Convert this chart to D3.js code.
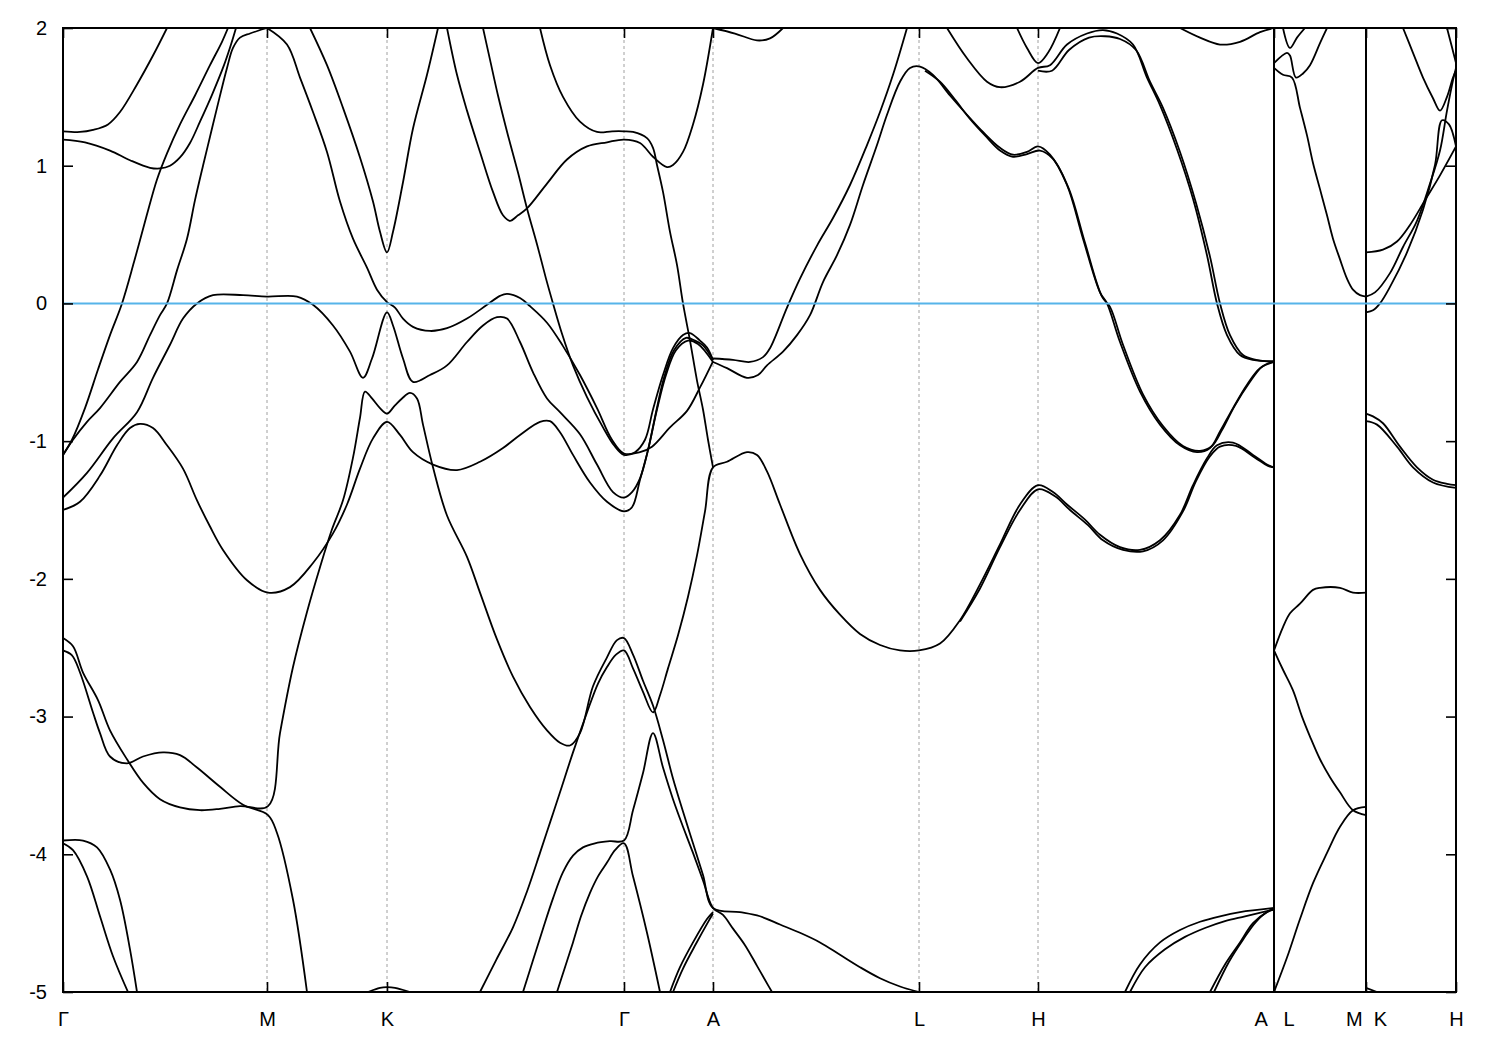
<!DOCTYPE html>
<html><head><meta charset="utf-8">
<script src="https://cdn.jsdelivr.net/npm/d3@7"></script>
<style>
body{margin:0;background:#fff}
svg{display:block}
text{font-family:"Liberation Sans",Arial,sans-serif;font-size:20px;fill:#000}
</style>
</head><body>
<svg id="chart" width="1500" height="1050"></svg>
<script>
// ---- high-symmetry path (k in path units) ----
const kTicks = [0, 204, 324, 561, 650, 856, 975, 1211, 1303, 1393];
const kLabels = ["Γ", "M", "K", "Γ", "A", "L", "H", "A   L", "M  K", "H"];
const eTicks = [2, 1, 0, -1, -2, -3, -4, -5];
const jumps = [1211, 1303];           // path discontinuities A|L and M|K
const fermi = 0;

// ---- bands: [k, E(eV)] ----
const bandC1 = [[0,1.25],[17,1.245],[30,1.26],[45,1.30],[57,1.39],[74,1.59],[90,1.80],[104,2.0]];
const bandC2 = [[0,1.19],[22,1.17],[47,1.11],[67,1.04],[87,0.985],[97,0.98],[107,1.00],[117,1.06],[127,1.165],[137,1.32],[149,1.515],[161,1.73],[168,1.88],[173,2.0]];
const bandLa = [[0,-1.10],[9,-0.99],[22,-0.76],[35,-0.48],[47,-0.23],[59,0],[71,0.30],[83,0.62],[94,0.90],[104,1.09],[117,1.30],[132,1.51],[147,1.73],[159,1.90],[165,2.0]];
const bandLb = [[0,-1.10],[10,-0.99],[24,-0.86],[37,-0.76],[57,-0.57],[74,-0.425],[87,-0.23],[97,-0.085],[104,0],[114,0.24],[124,0.47],[132,0.75],[140,1.0],[147,1.21],[154,1.42],[164,1.71],[170,1.855],[177,1.93],[187,1.96],[195,1.98],[204,2.0]];
const bandM0 = [[204,2.0],[224,1.88],[237,1.64],[250,1.39],[264,1.10],[277,0.74],[290,0.47],[304,0.26],[314,0.10],[324,0.01],[332,-0.03],[340,-0.11],[350,-0.17],[367,-0.20],[384,-0.18],[404,-0.11],[424,-0.01],[437,0.055],[444,0.07],[457,0.04],[467,-0.02],[484,-0.14],[500,-0.31],[517,-0.52],[534,-0.76],[549,-0.99],[561,-1.09],[577,-1.08],[589,-1.04],[607,-0.90],[624,-0.78],[637,-0.61],[650,-0.42]];
const bandS = [[420,2.0],[427,1.77],[435,1.51],[445,1.22],[455,0.95],[464,0.69],[474,0.43],[483,0.18],[490,0.0],[499,-0.22],[510,-0.45],[524,-0.68],[540,-0.90],[551,-1.03],[561,-1.10],[572,-1.08],[582,-0.99],[590,-0.77],[600,-0.52],[610,-0.325],[620,-0.23],[627,-0.215],[637,-0.27],[644,-0.32],[650,-0.41]];
const bandD3 = [[0,-1.41],[24,-1.23],[50,-0.98],[74,-0.79],[90,-0.54],[107,-0.30],[120,-0.11],[134,0.0],[150,0.06],[180,0.06],[204,0.05],[234,0.05],[250,-0.01],[270,-0.16],[287,-0.35],[300,-0.54],[309,-0.40],[324,-0.065],[330,-0.16],[340,-0.40],[350,-0.57],[367,-0.52],[384,-0.45],[404,-0.28],[420,-0.16],[434,-0.10],[444,-0.11],[457,-0.28],[470,-0.50],[484,-0.69],[497,-0.79],[517,-0.95],[534,-1.17],[550,-1.37],[561,-1.41],[569,-1.37],[577,-1.27],[585,-1.065],[593,-0.79],[601,-0.54],[611,-0.34],[623,-0.25],[632,-0.27],[640,-0.305],[650,-0.41]];
const bandD2 = [[0,-1.50],[17,-1.44],[37,-1.25],[54,-1.03],[67,-0.905],[77,-0.875],[90,-0.905],[104,-1.03],[120,-1.20],[134,-1.43],[147,-1.62],[160,-1.79],[184,-2.01],[205,-2.10],[227,-2.06],[250,-1.885],[270,-1.67],[284,-1.46],[297,-1.20],[310,-0.98],[324,-0.86],[337,-0.955],[350,-1.08],[370,-1.17],[394,-1.21],[417,-1.15],[440,-1.05],[457,-0.955],[477,-0.86],[487,-0.855],[497,-0.935],[510,-1.10],[527,-1.30],[544,-1.44],[561,-1.51],[569,-1.48],[577,-1.28],[585,-1.065],[594,-0.77],[603,-0.52],[613,-0.34],[625,-0.27],[635,-0.295],[650,-0.425]];
const bandD1 = [[0,-2.43],[10,-2.49],[20,-2.68],[35,-2.88],[47,-3.10],[64,-3.31],[80,-3.48],[97,-3.60],[117,-3.66],[137,-3.68],[157,-3.67],[177,-3.65],[205,-3.65],[217,-3.12],[230,-2.64],[244,-2.24],[257,-1.915],[269,-1.64],[280,-1.43],[290,-1.12],[297,-0.83],[302,-0.64],[309,-0.69],[317,-0.76],[324,-0.80],[332,-0.74],[339,-0.69],[347,-0.65],[354,-0.69],[360,-0.88],[370,-1.19],[384,-1.54],[404,-1.84],[417,-2.10],[434,-2.44],[450,-2.71],[467,-2.93],[484,-3.10],[497,-3.19],[507,-3.21],[517,-3.12],[530,-2.78],[544,-2.57],[554,-2.445],[561,-2.43],[570,-2.55],[580,-2.74],[590,-2.92],[600,-3.17],[610,-3.45],[620,-3.69],[630,-3.92],[640,-4.15],[650,-4.39],[677,-4.42],[697,-4.45],[717,-4.51],[737,-4.57],[757,-4.64],[777,-4.73],[797,-4.82],[817,-4.90],[837,-4.96],[856,-5.0]];
const bandA2 = [[0,-2.52],[9,-2.555],[17,-2.68],[30,-2.97],[37,-3.12],[47,-3.29],[64,-3.34],[80,-3.29],[100,-3.26],[117,-3.28],[134,-3.37],[157,-3.51],[180,-3.64],[205,-3.715],[214,-3.845],[230,-4.33],[244,-5.0]];
const bandB1 = [[0,-3.90],[20,-3.90],[34,-3.95],[47,-4.11],[57,-4.33],[67,-4.69],[74,-5.0]];
const bandB2 = [[0,-3.92],[10,-3.97],[24,-4.16],[37,-4.45],[50,-4.74],[65,-5.0]];
const bandKb = [[305,-5.0],[317,-4.97],[324,-4.965],[332,-4.97],[347,-5.0]];
const bandE1 = [[417,-5.0],[433,-4.77],[450,-4.53],[464,-4.27],[477,-3.99],[487,-3.77],[497,-3.55],[510,-3.26],[524,-2.97],[535,-2.76],[544,-2.64],[553,-2.55],[561,-2.52],[570,-2.65],[580,-2.82],[590,-2.97],[597,-2.845],[605,-2.65],[615,-2.41],[625,-2.13],[634,-1.83],[642,-1.51],[650,-1.19],[664,-1.15],[684,-1.08],[694,-1.10],[704,-1.22],[717,-1.46],[737,-1.82],[757,-2.08],[777,-2.26],[797,-2.40],[817,-2.48],[837,-2.52],[856,-2.52],[877,-2.47],[897,-2.30],[917,-2.04],[937,-1.75],[957,-1.46],[975,-1.32],[990,-1.37],[1004,-1.46],[1022,-1.57],[1037,-1.68],[1057,-1.77],[1077,-1.79],[1097,-1.72],[1117,-1.535],[1130,-1.32],[1144,-1.125],[1154,-1.03],[1170,-1.01],[1190,-1.10],[1204,-1.17],[1211,-1.19]];
const bandT2 = [[897,-2.31],[917,-2.07],[937,-1.77],[957,-1.50],[975,-1.35],[992,-1.40],[1007,-1.50],[1025,-1.61],[1040,-1.72],[1060,-1.79],[1080,-1.80],[1100,-1.72],[1120,-1.51],[1133,-1.29],[1147,-1.11],[1157,-1.04],[1173,-1.035],[1192,-1.12],[1205,-1.18],[1211,-1.19]];
const bandV = [[477,2.0],[487,1.73],[500,1.50],[517,1.32],[534,1.245],[549,1.25],[561,1.25],[570,1.245],[584,1.20],[590,1.13],[594,1.005],[600,0.81],[607,0.52],[614,0.28],[620,0.0],[627,-0.27],[634,-0.56],[640,-0.77],[645,-0.99],[650,-1.19]];
const bandW = [[384,2.0],[394,1.66],[404,1.40],[417,1.10],[430,0.81],[440,0.64],[447,0.60],[455,0.64],[464,0.69],[484,0.87],[504,1.045],[524,1.14],[544,1.17],[561,1.19],[577,1.165],[590,1.065],[604,0.99],[610,1.005],[620,1.10],[630,1.30],[640,1.59],[650,2.0]];
const bandKV = [[247,2.0],[264,1.73],[280,1.42],[297,1.06],[310,0.74],[317,0.52],[324,0.37],[330,0.52],[340,0.88],[350,1.27],[364,1.66],[375,2.0]];
const bandE2 = [[460,-5.0],[470,-4.77],[480,-4.54],[490,-4.32],[500,-4.13],[510,-4.01],[520,-3.95],[532,-3.92],[547,-3.905],[561,-3.90],[570,-3.68],[580,-3.41],[590,-3.12],[600,-3.37],[610,-3.60],[620,-3.80],[630,-3.99],[640,-4.19],[650,-4.39],[660,-4.44],[670,-4.54],[682,-4.66],[694,-4.81],[705,-4.95],[709,-5.0]];
const bandE3 = [[494,-5.0],[502,-4.82],[510,-4.64],[518,-4.45],[527,-4.28],[535,-4.16],[544,-4.06],[552,-3.97],[561,-3.92],[570,-4.16],[584,-4.57],[597,-5.0]];
const bandG5 = [[607,-5.0],[617,-4.82],[630,-4.64],[644,-4.47],[650,-4.42]];
const bandG5b = [[610,-5.0],[620,-4.83],[633,-4.65],[646,-4.48],[650,-4.43]];
const bandATop = [[650,2.0],[672,1.96],[694,1.91],[707,1.925],[720,2.0]];
const bandP = [[650,-0.40],[670,-0.41],[687,-0.425],[700,-0.39],[707,-0.325],[724,-0.03],[737,0.18],[754,0.42],[770,0.62],[787,0.86],[804,1.15],[817,1.39],[830,1.66],[844,2.0]];
const bandQ = [[650,-0.425],[664,-0.47],[684,-0.54],[695,-0.52],[704,-0.45],[720,-0.35],[734,-0.23],[747,-0.085],[760,0.155],[774,0.35],[787,0.57],[800,0.86],[814,1.15],[824,1.37],[837,1.61],[847,1.71],[857,1.72],[870,1.66],[887,1.51],[904,1.37],[920,1.245],[937,1.13],[950,1.08],[964,1.10],[975,1.14],[987,1.08],[1004,0.86],[1020,0.47],[1037,0.08],[1044,0.0],[1057,-0.28],[1077,-0.64],[1097,-0.88],[1117,-1.03],[1134,-1.08],[1147,-1.05],[1157,-0.93],[1170,-0.76],[1184,-0.59],[1197,-0.47],[1211,-0.425]];
const bandQ2 = [[862,1.69],[877,1.61],[892,1.48],[907,1.34],[922,1.22],[937,1.11],[950,1.065],[964,1.085],[977,1.11],[990,1.05],[1006,0.83],[1022,0.44],[1039,0.05],[1047,-0.025],[1060,-0.30],[1080,-0.66],[1100,-0.89],[1120,-1.035],[1137,-1.07],[1149,-1.035],[1159,-0.92],[1172,-0.74],[1186,-0.58],[1199,-0.46],[1211,-0.42]];
const bandR = [[884,2.0],[904,1.78],[924,1.61],[937,1.57],[957,1.61],[975,1.71],[987,1.73],[1004,1.88],[1024,1.96],[1040,1.985],[1054,1.96],[1070,1.88],[1084,1.64],[1097,1.44],[1114,1.12],[1130,0.76],[1144,0.35],[1154,0.0],[1164,-0.23],[1177,-0.375],[1190,-0.41],[1211,-0.42]];
const bandR2 = [[975,1.69],[989,1.69],[1006,1.84],[1026,1.93],[1042,1.94],[1057,1.92],[1073,1.84],[1087,1.61],[1100,1.42],[1117,1.10],[1133,0.73],[1147,0.34],[1157,0.0],[1167,-0.23],[1180,-0.375],[1193,-0.41],[1211,-0.425]];
const bandHV = [[954,2.0],[964,1.855],[975,1.745],[985,1.82],[997,2.0]];
const bandHATop = [[1117,2.0],[1137,1.93],[1157,1.88],[1177,1.90],[1197,1.97],[1211,2.0]];
const bandHA1 = [[1062,-5.0],[1077,-4.80],[1097,-4.64],[1117,-4.55],[1137,-4.49],[1157,-4.45],[1177,-4.42],[1211,-4.39]];
const bandHA1b = [[1067,-5.0],[1082,-4.82],[1102,-4.69],[1122,-4.60],[1142,-4.535],[1162,-4.485],[1182,-4.45],[1211,-4.40]];
const bandHA2 = [[1147,-5.0],[1162,-4.80],[1177,-4.64],[1190,-4.50],[1204,-4.42],[1211,-4.40]];
const bandHA2b = [[1151,-5.0],[1166,-4.78],[1180,-4.62],[1193,-4.49],[1206,-4.41],[1211,-4.40]];
const bandLM1 = [[1211,1.745],[1224,1.82],[1227,1.80],[1233,1.64],[1240,1.67],[1247,1.73],[1257,1.89],[1264,2.0]];
const bandLMV = [[1220,2.0],[1227,1.855],[1234,1.93],[1242,2.0]];
const bandLM2 = [[1211,1.71],[1220,1.66],[1229,1.64],[1237,1.42],[1244,1.22],[1250,1.02],[1257,0.83],[1264,0.64],[1270,0.47],[1277,0.32],[1284,0.18],[1290,0.10],[1297,0.06],[1303,0.05]];
const bandLM3 = [[1211,-2.52],[1220,-2.35],[1227,-2.25],[1237,-2.18],[1250,-2.08],[1257,-2.065],[1277,-2.065],[1290,-2.10],[1303,-2.10]];
const bandLM4 = [[1211,-2.52],[1220,-2.66],[1230,-2.81],[1239,-3.00],[1247,-3.145],[1257,-3.31],[1267,-3.44],[1277,-3.55],[1290,-3.68],[1303,-3.715]];
const bandLM5 = [[1211,-5.0],[1224,-4.75],[1237,-4.47],[1250,-4.21],[1264,-3.99],[1277,-3.80],[1290,-3.68],[1303,-3.655]];
const bandKH1 = [[1303,-0.80],[1310,-0.82],[1320,-0.87],[1337,-1.04],[1354,-1.19],[1370,-1.28],[1384,-1.31],[1393,-1.32]];
const bandKH2 = [[1303,-0.855],[1314,-0.88],[1334,-1.04],[1350,-1.19],[1370,-1.30],[1393,-1.34]];
const bandKHb = [[1303,-4.97],[1314,-5.0]];
const bandKH3 = [[1303,0.37],[1320,0.39],[1334,0.45],[1347,0.57],[1362,0.75],[1377,0.93],[1393,1.14]];
const bandKH4 = [[1303,0.05],[1312,0.08],[1327,0.22],[1340,0.41],[1354,0.60],[1367,0.87],[1377,1.11],[1384,1.40],[1390,1.62],[1393,1.71]];
const bandKH5 = [[1303,-0.065],[1310,-0.05],[1317,0.0],[1327,0.12],[1344,0.37],[1360,0.68],[1372,1.005],[1379,1.33],[1386,1.30],[1393,1.14]];
const bandKH6 = [[1340,2.0],[1350,1.82],[1360,1.64],[1370,1.49],[1377,1.40],[1384,1.50],[1390,1.64],[1393,1.69]];
const bandKH7 = [[1384,2.0],[1389,1.86],[1393,1.745]];

const bands = [bandC1,bandC2,bandLa,bandLb,bandM0,bandS,bandD3,bandD2,bandD1,bandA2,bandB1,bandB2,bandKb,
  bandE1,bandT2,bandV,bandW,bandKV,bandE2,bandE3,bandG5,bandG5b,bandATop,bandP,bandQ,bandQ2,bandR,bandR2,
  bandHV,bandHATop,bandHA1,bandHA1b,bandHA2,bandHA2b,bandLM1,bandLMV,bandLM2,bandLM3,bandLM4,bandLM5,
  bandKH1,bandKH2,bandKHb,bandKH3,bandKH4,bandKH5,bandKH6,bandKH7];

// ---- drawing ----
const svg = d3.select("#chart");
const x = d3.scaleLinear().domain([0, 1393]).range([63, 1456]);
const y = d3.scaleLinear().domain([-5, 2]).range([992, 28]);

svg.append("rect").attr("width",1500).attr("height",1050).attr("fill","#fff");

svg.append("defs").append("clipPath").attr("id","plotclip")
  .append("rect").attr("x",x(0)).attr("y",y(2)).attr("width",x(1393)-x(0)).attr("height",y(-5)-y(2));

// dashed high-symmetry gridlines
svg.append("g").selectAll("line").data(kTicks.slice(1,-1)).join("line")
  .attr("x1",d=>x(d)).attr("x2",d=>x(d)).attr("y1",y(2)).attr("y2",y(-5))
  .attr("stroke","#a0a0a0").attr("stroke-width",1).attr("stroke-dasharray","3,3");

// bands
const line = d3.line().x(d=>x(d[0])).y(d=>y(d[1])).curve(d3.curveCatmullRom.alpha(0.5));
const g = svg.append("g").attr("clip-path","url(#plotclip)");
g.selectAll("path.band").data(bands).join("path").attr("class","band")
  .attr("d",line).attr("fill","none").attr("stroke","#000").attr("stroke-width",1.8)
  .attr("stroke-linejoin","round");
// discontinuity jumps
g.selectAll("line.jump").data(jumps).join("line").attr("class","jump")
  .attr("x1",d=>x(d)).attr("x2",d=>x(d)).attr("y1",y(2)).attr("y2",y(-5))
  .attr("stroke","#000").attr("stroke-width",2);

// Fermi level
svg.append("line").attr("x1",x(0)).attr("x2",x(1393)).attr("y1",y(fermi)).attr("y2",y(fermi))
  .attr("stroke","#56b4e9").attr("stroke-width",2);

// axes
const axL = svg.append("g").attr("transform",`translate(${x(0)},0)`)
  .call(d3.axisLeft(y).tickValues(eTicks).tickSize(-10).tickPadding(16).tickFormat(d3.format("d")));
const axR = svg.append("g").attr("transform",`translate(${x(1393)},0)`)
  .call(d3.axisRight(y).tickValues(eTicks).tickSize(-10).tickFormat(""));
const axB = svg.append("g").attr("transform",`translate(0,${y(-5)})`)
  .call(d3.axisBottom(x).tickValues(kTicks).tickSize(-10).tickPadding(20).tickFormat((d,i)=>kLabels[i]));
const axT = svg.append("g").attr("transform",`translate(0,${y(2)})`)
  .call(d3.axisTop(x).tickValues(kTicks).tickSize(-10).tickFormat(""));
[axL,axR,axB,axT].forEach(a=>{
  a.select(".domain").remove();
  a.selectAll(".tick line").attr("stroke","#000").attr("stroke-width",1.6);
  a.selectAll("text").attr("font-size",20).attr("fill","#000")
    .attr("font-family","'Liberation Sans',Arial,sans-serif");
});
axL.selectAll("text").text(d=>d3.format("d")(d).replace("−","-"));
axB.selectAll("text").style("white-space","pre")
  .filter(function(){return this.textContent==="Γ";})
  .attr("font-family","'Liberation Serif','DejaVu Serif',serif").attr("font-size",21);

// frame
svg.append("rect").attr("x",x(0)).attr("y",y(2)).attr("width",x(1393)-x(0)).attr("height",y(-5)-y(2))
  .attr("fill","none").attr("stroke","#000").attr("stroke-width",2);
</script>
</body></html>
